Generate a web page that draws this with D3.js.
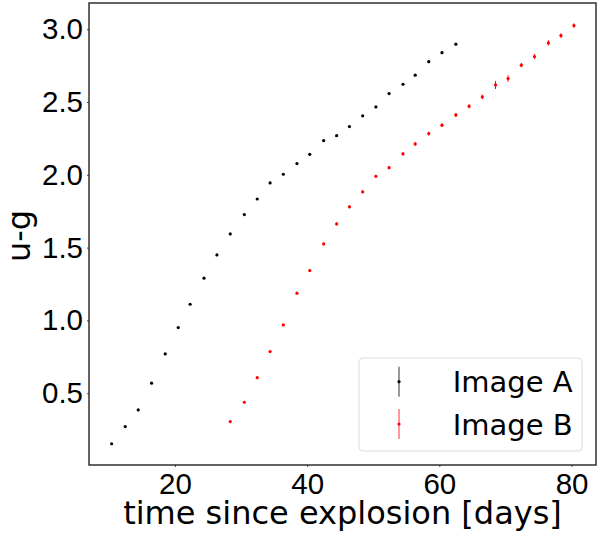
<!DOCTYPE html>
<html>
<head>
<meta charset="utf-8">
<script src="https://cdn.jsdelivr.net/npm/d3@7"></script>
<style>
  body { margin: 0; background: #fff; }
  svg { font-family: "DejaVu Sans", sans-serif; }
</style>
</head>
<body>
<svg id="chart"></svg>
<script>
// time since explosion [days] and u-g colour for the two lensed images
var daysA = [10.42, 12.48, 14.45, 16.47, 18.53, 20.5, 22.3, 24.4, 26.35, 28.37, 30.5, 32.45, 34.4, 36.4,
             38.46, 40.4, 42.5, 44.46, 46.4, 48.4, 50.4, 52.4, 54.5, 56.35, 58.4, 60.4, 62.5];
var ugA = [0.153, 0.271, 0.385, 0.569, 0.770, 0.951, 1.111, 1.290, 1.450, 1.594, 1.727, 1.834, 1.944, 2.004,
           2.077, 2.141, 2.235, 2.269, 2.331, 2.405, 2.466, 2.558, 2.622, 2.684, 2.777, 2.839, 2.897];
var errA = [0.004, 0.004, 0.004, 0.004, 0.004, 0.004, 0.004, 0.004, 0.004, 0.004, 0.005, 0.005, 0.005, 0.005,
            0.005, 0.005, 0.005, 0.005, 0.005, 0.006, 0.006, 0.006, 0.006, 0.006, 0.007, 0.007, 0.008];

var daysB = [28.37, 30.5, 32.45, 34.4, 36.4, 38.46, 40.4, 42.5, 44.46, 46.4, 48.4, 50.4, 52.4, 54.5,
             56.35, 58.4, 60.4, 62.5, 64.5, 66.5, 68.5, 70.4, 72.4, 74.4, 76.5, 78.4, 80.36];
var ugB = [0.305, 0.438, 0.607, 0.786, 0.969, 1.187, 1.342, 1.525, 1.663, 1.780, 1.883, 1.990, 2.049, 2.144,
           2.212, 2.283, 2.341, 2.411, 2.471, 2.535, 2.617, 2.661, 2.753, 2.812, 2.906, 2.956, 3.025];
var errB = [0.005, 0.006, 0.006, 0.007, 0.007, 0.008, 0.008, 0.009, 0.009, 0.010, 0.010, 0.010, 0.011, 0.012,
            0.012, 0.013, 0.013, 0.014, 0.015, 0.016, 0.028, 0.022, 0.015, 0.017, 0.018, 0.016, 0.015];

var xTicks = [20, 40, 60, 80];
var yTicks = [0.5, 1.0, 1.5, 2.0, 2.5, 3.0];
var labels = ["Image A", "Image B"];
var colors = ["#000000", "#ff0000"];

var svg_width = 600;
var svg_height = 535;
var margin = { top: 3, right: 4, bottom: 70, left: 89 };
var width = svg_width - margin.left - margin.right;
var height = svg_height - margin.top - margin.bottom;

var svg = d3.select("#chart")
  .attr("width", svg_width)
  .attr("height", svg_height);

var group = svg.append("g")
  .attr("transform", "translate(" + margin.left + "," + margin.top + ")");

var x = d3.scaleLinear().domain([7.0, 83.7]).range([0, width]);
var y = d3.scaleLinear().domain([0.007, 3.18]).range([height, 0]);

var xAxis = group.append("g")
  .attr("transform", "translate(0," + height + ")")
  .call(d3.axisBottom(x).tickValues(xTicks).tickFormat(d3.format("d")).tickSize(2).tickPadding(6));
xAxis.select(".domain").remove();
xAxis.selectAll("text").attr("font-size", 29.5).attr("fill", "#000");
xAxis.selectAll("line").attr("stroke", "#444");

var yAxis = group.append("g")
  .call(d3.axisLeft(y).tickValues(yTicks).tickFormat(d3.format(".1f")).tickSize(2).tickPadding(4));
yAxis.select(".domain").remove();
yAxis.selectAll("text").attr("font-size", 29.5).attr("fill", "#000");
yAxis.selectAll("line").attr("stroke", "#444");

// frame
group.append("rect")
  .attr("width", width)
  .attr("height", height)
  .attr("fill", "none")
  .attr("stroke", "#222")
  .attr("stroke-width", 1.4);

function drawSeries(days, ug, err, color) {
  var g = group.append("g");
  g.selectAll("line")
    .data(days)
    .enter().append("line")
    .attr("x1", function(d) { return x(d); })
    .attr("x2", function(d) { return x(d); })
    .attr("y1", function(d, i) { return y(ug[i] - err[i]); })
    .attr("y2", function(d, i) { return y(ug[i] + err[i]); })
    .attr("stroke", color)
    .attr("stroke-width", 1);
  g.selectAll("circle")
    .data(days)
    .enter().append("circle")
    .attr("cx", function(d) { return x(d); })
    .attr("cy", function(d, i) { return y(ug[i]); })
    .attr("r", 1.6)
    .attr("fill", color);
}
drawSeries(daysA, ugA, errA, colors[0]);
drawSeries(daysB, ugB, errB, colors[1]);

// legend
var legend = svg.append("g").attr("transform", "translate(359,358)");
legend.append("rect")
  .attr("width", 223)
  .attr("height", 93)
  .attr("rx", 4)
  .attr("fill", "#fff")
  .attr("fill-opacity", 0.8)
  .attr("stroke", "#dcdcdc")
  .attr("stroke-width", 1);
labels.forEach(function(label, i) {
  var cy = 23.7 + i * 42.3;
  legend.append("line")
    .attr("x1", 40).attr("x2", 40)
    .attr("y1", cy - 15).attr("y2", cy + 15)
    .attr("stroke", colors[i])
    .attr("stroke-opacity", 0.8)
    .attr("stroke-width", 1);
  legend.append("circle")
    .attr("cx", 40).attr("cy", cy)
    .attr("r", 1.6)
    .attr("fill", colors[i]);
  legend.append("text")
    .attr("x", 93.7)
    .attr("y", cy + 10.6)
    .attr("font-size", 29)
    .attr("fill", "#000")
    .text(label);
});

// axis labels
svg.append("text")
  .attr("x", margin.left + width / 2)
  .attr("y", 524)
  .attr("text-anchor", "middle")
  .attr("font-size", 32)
  .attr("fill", "#000")
  .text("time since explosion [days]");

svg.append("text")
  .attr("transform", "translate(30," + (margin.top + height / 2 + 2) + ") rotate(-90)")
  .attr("text-anchor", "middle")
  .attr("font-size", 32)
  .attr("fill", "#000")
  .text("u-g");
</script>
</body>
</html>
